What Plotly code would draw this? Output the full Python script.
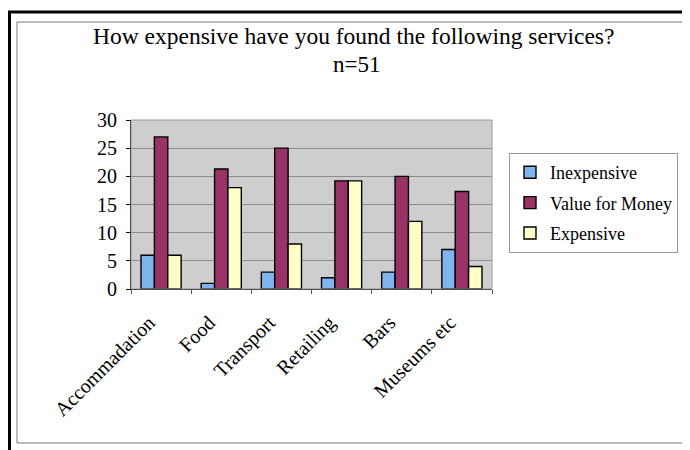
import plotly.graph_objects as go

categories = ['Accommadation', 'Food', 'Transport', 'Retailing', 'Bars', 'Museums etc']
inexpensive = [6, 1, 3, 2, 3, 7]
value_for_money = [27, 21.3, 25, 19.2, 20, 17.3]
expensive = [6, 18, 8, 19.2, 12, 4]
y_ticks = [0, 5, 10, 15, 20, 25, 30]

# page body has an 8px margin, so the figure is drawn 8px in from the corner
OFF = 8
W, H = 690 - OFF, 450 - OFF
L, R, T, B = 131, 492, 120, 289  # plot area, in screenshot pixels


def px(x):
    return (x - L) / (R - L)


def py(y):
    return (B - y) / (B - T)


SERIF = 'Liberation Serif'

fig = go.Figure()
series = [
    ('Inexpensive', inexpensive, '#80B4EE'),
    ('Value for Money', value_for_money, '#993366'),
    ('Expensive', expensive, '#FFFFC8'),
]
for name, vals, color in series:
    fig.add_trace(go.Bar(
        x=categories, y=vals, name=name, legendgroup=name,
        marker=dict(color=color, line=dict(color='black', width=1.4)),
    ))

fig.update_layout(
    width=W, height=H,
    margin=dict(l=L - OFF, r=W - (R - OFF), t=T - OFF, b=H - (B - OFF)),
    barmode='group', bargap=0.333, bargroupgap=0,
    plot_bgcolor='#CECECE', paper_bgcolor='white',
    font=dict(family=SERIF, color='black', size=16),
    showlegend=True,
    legend=dict(
        x=px(509), y=py(153), xanchor='left', yanchor='top',
        bordercolor='#999999', borderwidth=1, bgcolor='white',
        font=dict(family=SERIF, size=18),
        traceorder='grouped', tracegroupgap=4,
        itemwidth=30,
    ),
    xaxis=dict(
        tickangle=-45, tickfont=dict(family=SERIF, size=20),
        ticklabelshift=-12, ticklabelstandoff=13,
        showline=True, linecolor='black', linewidth=1,
        ticks='outside', tickson='boundaries', ticklen=4, tickcolor='#555555',
        showgrid=False,
    ),
    yaxis=dict(
        range=[0, 30], tickvals=y_ticks, tickfont=dict(family=SERIF, size=20),
        showline=True, linecolor='black', linewidth=1,
        ticks='outside', ticklen=4, tickcolor='black', ticklabelstandoff=5,
        gridcolor='#8C8C8C', gridwidth=1, zeroline=False,
    ),
    annotations=[
        dict(text='How expensive have you found the following services?',
             x=px(353), y=py(36), xref='paper', yref='paper',
             xanchor='center', yanchor='middle',
             showarrow=False, font=dict(family=SERIF, size=23.5)),
        dict(text='n=51',
             x=px(356), y=py(65), xref='paper', yref='paper',
             xanchor='center', yanchor='middle',
             showarrow=False, font=dict(family=SERIF, size=23)),
    ],
    shapes=[
        # plot area border
        dict(type='rect', xref='paper', yref='paper', x0=0, y0=0, x1=1, y1=1,
             line=dict(color='#999999', width=1)),
        # inner thin frame
        dict(type='rect', xref='paper', yref='paper',
             x0=px(17), y0=py(443), x1=px(687), y1=py(22),
             line=dict(color='#777777', width=1)),
        # outer thick frame (top and left)
        dict(type='line', xref='paper', yref='paper',
             x0=px(8), y0=py(12), x1=px(690), y1=py(12),
             line=dict(color='black', width=3)),
        dict(type='line', xref='paper', yref='paper',
             x0=px(9.5), y0=py(11), x1=px(9.5), y1=py(450),
             line=dict(color='black', width=3)),
    ],
)

fig.write_html('out.html')
